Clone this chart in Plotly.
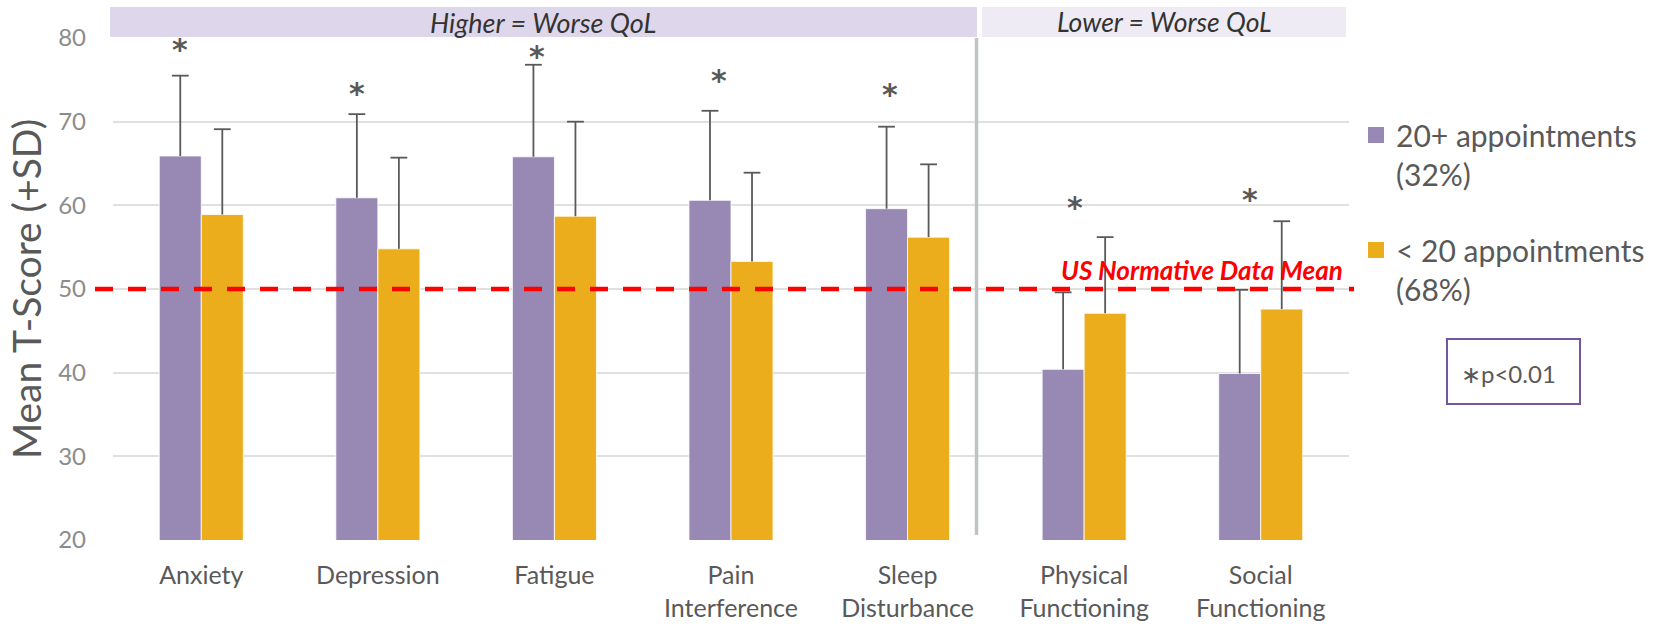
import numpy as np
import plotly.graph_objects as go

# ---- data -------------------------------------------------------------
categories = ["Anxiety", "Depression", "Fatigue", "Pain<br>Interference",
              "Sleep<br>Disturbance", "Physical<br>Functioning", "Social<br>Functioning"]
high_mean = [65.9, 60.9, 65.8, 60.6, 59.6, 40.4, 39.9]   # 20+ appointments
high_sd = [9.6, 10.0, 11.0, 10.7, 9.8, 9.2, 10.0]
low_mean = [58.9, 54.8, 58.7, 53.3, 56.2, 47.1, 47.6]    # < 20 appointments
low_sd = [10.2, 10.9, 11.3, 10.6, 8.7, 9.1, 10.5]
series_names = ["20+ appointments<br>(32%)", "&lt; 20 appointments<br>(68%)"]
y_ticks = [20, 30, 40, 50, 60, 70, 80]
normative_mean = 50
star_y = [79.0, 73.7, 78.1, 75.3, 73.6, 60.1, 61.1]      # significance marks
star_dx = [0.0, 0.0, 0.02, 0.05, 0.02, 0.07, 0.06]

# ---- styling ----------------------------------------------------------
W, H = 1656, 624
L, R, T, B = 113, 307, 38, 84
PW, PH = W - L - R, H - T - B
FONT = "Lato"
purple = "#9888B4"
orange = "#ECAD1D"
err_color = "#595959"
text_dark = "#595959"


def px_x(px):
    return (px - L) / PW


def px_y(py):
    return 1 - (py - T) / PH


x = np.arange(len(categories))
bar_w = 0.238

fig = go.Figure()
for mean, sd, color, off in [(high_mean, high_sd, purple, -bar_w),
                             (low_mean, low_sd, orange, 0.0)]:
    fig.add_trace(go.Bar(
        x=x, y=mean, width=bar_w, offset=off,
        marker=dict(color=color, line=dict(color="white", width=0.8)),
        error_y=dict(type="data", array=sd, arrayminus=[0] * len(sd),
                     symmetric=False, width=0, thickness=1.8, color=err_color),
        showlegend=False, hoverinfo="skip"))
    # caps on top of the +SD whiskers
    fig.add_trace(go.Scatter(
        x=x + off + bar_w / 2, y=np.add(mean, sd), mode="markers",
        marker=dict(symbol="line-ew", size=12, line=dict(width=1.8, color=err_color)),
        showlegend=False, hoverinfo="skip"))

# legend entries
for name, color, grp in [(series_names[0], purple, "a"), (series_names[1], orange, "b")]:
    fig.add_trace(go.Scatter(x=[None], y=[None], mode="markers", name=name,
                             legendgroup=grp,
                             marker=dict(symbol="square", size=18, color=color)))

shapes = [
    # header bands
    dict(type="rect", xref="paper", yref="paper", x0=px_x(110), x1=px_x(977),
         y0=px_y(37), y1=px_y(7), fillcolor="#DED7EB", line=dict(width=0), layer="below"),
    dict(type="rect", xref="paper", yref="paper", x0=px_x(982), x1=px_x(1346),
         y0=px_y(37), y1=px_y(7), fillcolor="#EEEBF4", line=dict(width=0), layer="below"),
    # divider between the two domain groups
    dict(type="line", xref="paper", yref="paper", x0=px_x(976.5), x1=px_x(976.5),
         y0=px_y(535), y1=px_y(38), line=dict(color="#BFC3C4", width=3.5)),
    # US normative mean
    dict(type="line", xref="paper", yref="y", x0=px_x(95), x1=px_x(1354),
         y0=normative_mean, y1=normative_mean,
         line=dict(color="#FF0000", width=4.3, dash="18px,15px"), layer="above"),
    # p-value box
    dict(type="rect", xref="paper", yref="paper", x0=px_x(1447), x1=px_x(1580),
         y0=px_y(404), y1=px_y(339), line=dict(color="#7355A0", width=2)),
]

annotations = [
    dict(text="<i>Higher = Worse QoL</i>", xref="paper", yref="paper",
         x=px_x(543), y=px_y(22), xanchor="center", yanchor="middle", showarrow=False,
         font=dict(family=FONT, size=27, color="#333333")),
    dict(text="<i>Lower = Worse QoL</i>", xref="paper", yref="paper",
         x=px_x(1164), y=px_y(22), xanchor="center", yanchor="middle", showarrow=False,
         font=dict(family=FONT, size=26.5, color="#333333")),
    dict(text="<b><i>US Normative Data Mean</i></b>", xref="paper", yref="paper",
         x=px_x(1345), y=px_y(270), xanchor="right", yanchor="middle", showarrow=False,
         font=dict(family=FONT, size=26, color="#FF0000")),
    dict(text="∗p&lt;0.01", xref="paper", yref="paper",
         x=px_x(1459), y=px_y(373), xanchor="left", yanchor="middle", showarrow=False,
         font=dict(family=FONT, size=24, color=text_dark)),
]
for i in range(len(categories)):
    annotations.append(dict(
        text="<b>*</b>", x=x[i] - bar_w / 2 + star_dx[i], y=star_y[i], xref="x", yref="y",
        xanchor="center", yanchor="middle", showarrow=False, yshift=-3,
        font=dict(family="DejaVu Sans", size=30, color=text_dark)))

fig.update_layout(
    width=W, height=H,
    margin=dict(l=L, r=R, t=T, b=B, pad=0, autoexpand=False),
    paper_bgcolor="white", plot_bgcolor="white",
    barmode="overlay",
    font=dict(family=FONT, color=text_dark),
    shapes=shapes, annotations=annotations,
    hovermode=False,
    legend=dict(x=px_x(1356), y=px_y(109), xanchor="left", yanchor="top",
                font=dict(family=FONT, size=30, color=text_dark),
                tracegroupgap=34, valign="top", bgcolor="rgba(0,0,0,0)"),
    xaxis=dict(range=[-0.5, len(categories) - 0.5], tickmode="array",
               tickvals=x, ticktext=categories, showgrid=False, zeroline=False,
               showline=False, ticks="", ticklabelstandoff=18, automargin=False,
               tickfont=dict(family=FONT, size=25, color=text_dark)),
    yaxis=dict(range=[20, 80], tickmode="array", tickvals=y_ticks,
               showgrid=True, gridcolor="#E0E0E0", gridwidth=1.8,
               zeroline=False, showline=False, ticks="", ticklabelstandoff=26,
               automargin=False,
               tickfont=dict(family=FONT, size=24, color="#8C8C8C"),
               title=dict(text="Mean T-Score (+SD)", standoff=4,
                          font=dict(family=FONT, size=39, color=text_dark))),
)

fig.write_html("out.html")
